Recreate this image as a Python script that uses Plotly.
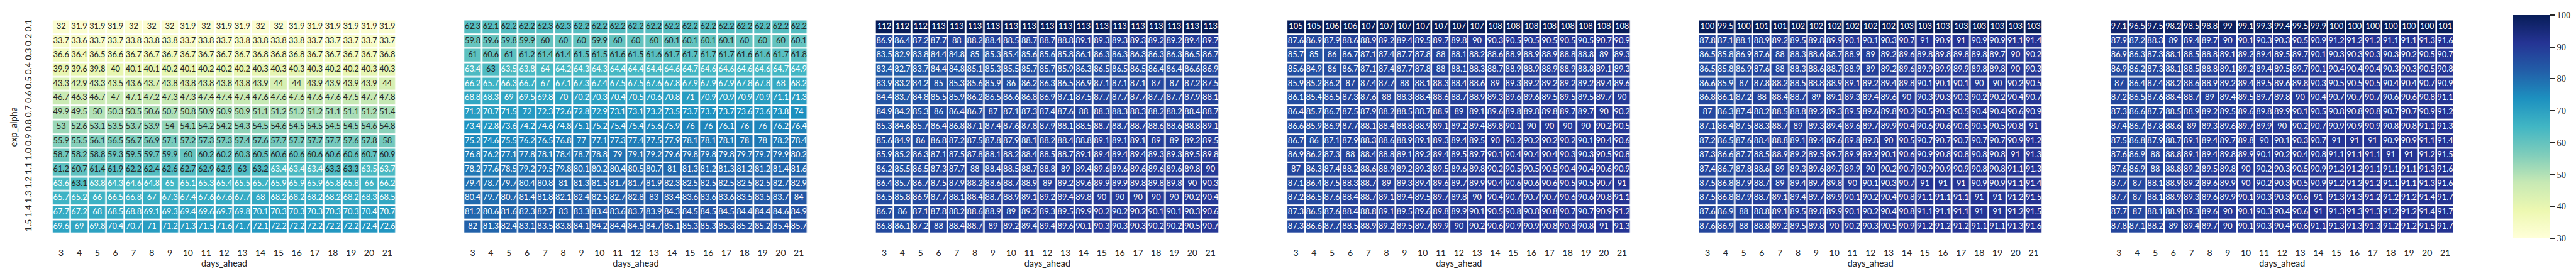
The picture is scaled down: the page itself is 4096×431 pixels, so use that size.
import plotly.graph_objects as go

# ---------------- data ----------------
days_ahead = [str(d) for d in range(3, 22)]
exp_alpha = ["0.1", "0.2", "0.3", "0.4", "0.5", "0.6", "0.7", "0.8", "0.9", "1.0", "1.1", "1.2", "1.3", "1.4", "1.5"]

panel1 = [
    [32, 31.9, 31.9, 31.9, 32, 32, 32, 31.9, 32, 31.9, 31.9, 32, 32, 31.9, 31.9, 31.9, 31.9, 31.9, 31.9],
    [33.7, 33.6, 33.7, 33.7, 33.8, 33.8, 33.8, 33.7, 33.8, 33.7, 33.8, 33.8, 33.8, 33.8, 33.7, 33.7, 33.7, 33.7, 33.7],
    [36.6, 36.4, 36.5, 36.6, 36.7, 36.7, 36.7, 36.7, 36.7, 36.7, 36.7, 36.8, 36.8, 36.8, 36.7, 36.7, 36.7, 36.7, 36.8],
    [39.9, 39.6, 39.8, 40, 40.1, 40.1, 40.2, 40.1, 40.2, 40.2, 40.2, 40.3, 40.3, 40.3, 40.3, 40.2, 40.2, 40.3, 40.3],
    [43.3, 42.9, 43.3, 43.5, 43.6, 43.7, 43.8, 43.8, 43.8, 43.8, 43.8, 43.9, 44, 44, 43.9, 43.9, 43.9, 43.9, 44],
    [46.7, 46.3, 46.7, 47, 47.1, 47.2, 47.3, 47.3, 47.4, 47.4, 47.4, 47.6, 47.6, 47.6, 47.6, 47.6, 47.5, 47.7, 47.8],
    [49.9, 49.5, 50, 50.3, 50.5, 50.6, 50.7, 50.8, 50.9, 50.9, 50.9, 51.1, 51.2, 51.2, 51.2, 51.1, 51.1, 51.2, 51.4],
    [53, 52.6, 53.1, 53.5, 53.7, 53.9, 54, 54.1, 54.2, 54.2, 54.3, 54.5, 54.6, 54.5, 54.5, 54.5, 54.5, 54.6, 54.8],
    [55.9, 55.5, 56.1, 56.5, 56.7, 56.9, 57.1, 57.2, 57.3, 57.3, 57.4, 57.6, 57.7, 57.7, 57.7, 57.7, 57.6, 57.8, 58],
    [58.7, 58.2, 58.8, 59.3, 59.5, 59.7, 59.9, 60, 60.2, 60.2, 60.3, 60.5, 60.6, 60.6, 60.6, 60.6, 60.6, 60.7, 60.9],
    [61.2, 60.7, 61.4, 61.9, 62.2, 62.4, 62.6, 62.7, 62.9, 62.9, 63, 63.2, 63.4, 63.4, 63.4, 63.3, 63.3, 63.5, 63.7],
    [63.6, 63.1, 63.8, 64.3, 64.6, 64.8, 65, 65.1, 65.3, 65.4, 65.5, 65.7, 65.9, 65.9, 65.9, 65.8, 65.8, 66, 66.2],
    [65.7, 65.2, 66, 66.5, 66.8, 67, 67.3, 67.4, 67.6, 67.6, 67.7, 68, 68.2, 68.2, 68.2, 68.2, 68.2, 68.3, 68.5],
    [67.7, 67.2, 68, 68.5, 68.8, 69.1, 69.3, 69.4, 69.6, 69.7, 69.8, 70.1, 70.3, 70.3, 70.3, 70.3, 70.3, 70.4, 70.7],
    [69.6, 69, 69.8, 70.4, 70.7, 71, 71.2, 71.3, 71.5, 71.6, 71.7, 72.1, 72.2, 72.2, 72.2, 72.2, 72.2, 72.4, 72.6],
]

panel2 = [
    [62.3, 62.1, 62.2, 62.2, 62.3, 62.3, 62.2, 62.2, 62.2, 62.2, 62.2, 62.2, 62.2, 62.2, 62.2, 62.2, 62.2, 62.2, 62.2],
    [59.8, 59.6, 59.8, 59.9, 60, 60, 60, 59.9, 60, 60, 60, 60.1, 60.1, 60.1, 60.1, 60, 60, 60, 60.1],
    [61, 60.6, 61, 61.2, 61.4, 61.4, 61.5, 61.5, 61.6, 61.5, 61.6, 61.7, 61.7, 61.7, 61.7, 61.6, 61.6, 61.7, 61.8],
    [63.4, 63, 63.5, 63.8, 64, 64.2, 64.3, 64.3, 64.4, 64.4, 64.4, 64.6, 64.7, 64.6, 64.6, 64.6, 64.6, 64.7, 64.9],
    [66.2, 65.7, 66.3, 66.7, 67, 67.1, 67.3, 67.4, 67.5, 67.5, 67.6, 67.8, 67.9, 67.9, 67.9, 67.8, 67.8, 68, 68.2],
    [68.8, 68.3, 69, 69.5, 69.8, 70, 70.2, 70.3, 70.4, 70.5, 70.6, 70.8, 71, 70.9, 70.9, 70.9, 70.9, 71.1, 71.3],
    [71.2, 70.7, 71.5, 72, 72.3, 72.6, 72.8, 72.9, 73.1, 73.1, 73.2, 73.5, 73.7, 73.7, 73.7, 73.6, 73.6, 73.8, 74],
    [73.4, 72.8, 73.6, 74.2, 74.6, 74.8, 75.1, 75.2, 75.4, 75.4, 75.6, 75.9, 76, 76, 76.1, 76, 76, 76.2, 76.4],
    [75.2, 74.6, 75.5, 76.2, 76.5, 76.8, 77, 77.1, 77.3, 77.4, 77.5, 77.9, 78.1, 78.1, 78.1, 78, 78, 78.2, 78.4],
    [76.8, 76.2, 77.1, 77.8, 78.1, 78.4, 78.7, 78.8, 79, 79.1, 79.2, 79.6, 79.8, 79.8, 79.8, 79.7, 79.7, 79.9, 80.2],
    [78.2, 77.6, 78.5, 79.2, 79.5, 79.8, 80.1, 80.2, 80.4, 80.5, 80.7, 81, 81.3, 81.2, 81.3, 81.2, 81.2, 81.4, 81.6],
    [79.4, 78.7, 79.7, 80.4, 80.8, 81, 81.3, 81.5, 81.7, 81.7, 81.9, 82.3, 82.5, 82.5, 82.5, 82.5, 82.5, 82.7, 82.9],
    [80.4, 79.7, 80.7, 81.4, 81.8, 82.1, 82.4, 82.5, 82.7, 82.8, 83, 83.4, 83.6, 83.6, 83.6, 83.5, 83.5, 83.7, 84],
    [81.2, 80.6, 81.6, 82.3, 82.7, 83, 83.3, 83.4, 83.6, 83.7, 83.9, 84.3, 84.5, 84.5, 84.5, 84.4, 84.4, 84.6, 84.9],
    [82, 81.3, 82.4, 83.1, 83.5, 83.8, 84.1, 84.2, 84.4, 84.5, 84.7, 85.1, 85.3, 85.3, 85.3, 85.2, 85.2, 85.4, 85.7],
]

panel3 = [
    [112, 112, 112, 113, 113, 113, 113, 113, 113, 113, 113, 113, 113, 113, 113, 113, 113, 113, 113],
    [86.9, 86.4, 87.2, 87.7, 88, 88.2, 88.4, 88.5, 88.7, 88.7, 88.8, 89.1, 89.3, 89.3, 89.3, 89.2, 89.2, 89.4, 89.7],
    [83.5, 82.9, 83.8, 84.4, 84.8, 85, 85.3, 85.4, 85.6, 85.6, 85.8, 86.1, 86.3, 86.3, 86.3, 86.3, 86.3, 86.5, 86.7],
    [83.4, 82.7, 83.7, 84.4, 84.8, 85.1, 85.3, 85.5, 85.7, 85.7, 85.9, 86.3, 86.5, 86.5, 86.5, 86.4, 86.4, 86.6, 86.9],
    [83.9, 83.2, 84.2, 85, 85.3, 85.6, 85.9, 86, 86.2, 86.3, 86.5, 86.9, 87.1, 87.1, 87.1, 87, 87, 87.2, 87.5],
    [84.4, 83.7, 84.8, 85.5, 85.9, 86.2, 86.5, 86.6, 86.8, 86.9, 87.1, 87.5, 87.7, 87.7, 87.7, 87.7, 87.7, 87.9, 88.1],
    [84.9, 84.2, 85.3, 86, 86.4, 86.7, 87, 87.1, 87.3, 87.4, 87.6, 88, 88.3, 88.3, 88.3, 88.2, 88.2, 88.4, 88.7],
    [85.3, 84.6, 85.7, 86.4, 86.8, 87.1, 87.4, 87.6, 87.8, 87.9, 88.1, 88.5, 88.7, 88.7, 88.7, 88.6, 88.6, 88.8, 89.1],
    [85.6, 84.9, 86, 86.8, 87.2, 87.5, 87.8, 87.9, 88.1, 88.2, 88.4, 88.8, 89.1, 89.1, 89.1, 89, 89, 89.2, 89.5],
    [85.9, 85.2, 86.3, 87.1, 87.5, 87.8, 88.1, 88.2, 88.4, 88.5, 88.7, 89.1, 89.4, 89.4, 89.4, 89.3, 89.3, 89.5, 89.8],
    [86.2, 85.5, 86.5, 87.3, 87.7, 88, 88.4, 88.5, 88.7, 88.8, 89, 89.4, 89.6, 89.6, 89.6, 89.6, 89.6, 89.8, 90],
    [86.4, 85.7, 86.7, 87.5, 87.9, 88.2, 88.6, 88.7, 88.9, 89, 89.2, 89.6, 89.9, 89.9, 89.8, 89.8, 89.8, 90, 90.3],
    [86.5, 85.8, 86.9, 87.7, 88.1, 88.4, 88.7, 88.9, 89.1, 89.2, 89.4, 89.8, 90, 90, 90, 90, 90, 90.2, 90.4],
    [86.7, 86, 87.1, 87.8, 88.2, 88.6, 88.9, 89, 89.2, 89.3, 89.5, 89.9, 90.2, 90.2, 90.2, 90.1, 90.1, 90.3, 90.6],
    [86.8, 86.1, 87.2, 88, 88.4, 88.7, 89, 89.2, 89.4, 89.4, 89.6, 90.1, 90.3, 90.3, 90.3, 90.2, 90.2, 90.5, 90.7],
]

panel4 = [
    [105, 105, 106, 106, 107, 107, 107, 107, 107, 107, 107, 108, 108, 108, 108, 108, 108, 108, 108],
    [87.6, 86.9, 87.9, 88.6, 88.9, 89.2, 89.4, 89.5, 89.7, 89.8, 90, 90.3, 90.5, 90.5, 90.5, 90.5, 90.5, 90.7, 90.9],
    [85.7, 85, 86, 86.7, 87.1, 87.4, 87.7, 87.8, 88, 88.1, 88.2, 88.6, 88.9, 88.9, 88.9, 88.8, 88.8, 89, 89.3],
    [85.6, 84.9, 86, 86.7, 87.1, 87.4, 87.7, 87.8, 88, 88.1, 88.3, 88.7, 88.9, 88.9, 88.9, 88.9, 88.8, 89.1, 89.3],
    [85.9, 85.2, 86.2, 87, 87.4, 87.7, 88, 88.1, 88.3, 88.4, 88.6, 89, 89.3, 89.2, 89.2, 89.2, 89.2, 89.4, 89.6],
    [86.1, 85.4, 86.5, 87.3, 87.6, 88, 88.3, 88.4, 88.6, 88.7, 88.9, 89.3, 89.6, 89.6, 89.5, 89.5, 89.5, 89.7, 90],
    [86.4, 85.7, 86.7, 87.5, 87.9, 88.2, 88.5, 88.7, 88.9, 89, 89.1, 89.6, 89.8, 89.8, 89.8, 89.7, 89.7, 90, 90.2],
    [86.6, 85.9, 86.9, 87.7, 88.1, 88.4, 88.8, 88.9, 89.1, 89.2, 89.4, 89.8, 90.1, 90, 90, 90, 90, 90.2, 90.5],
    [86.7, 86, 87.1, 87.9, 88.3, 88.6, 88.9, 89.1, 89.3, 89.4, 89.5, 90, 90.2, 90.2, 90.2, 90.2, 90.1, 90.4, 90.6],
    [86.9, 86.2, 87.3, 88, 88.4, 88.8, 89.1, 89.2, 89.4, 89.5, 89.7, 90.1, 90.4, 90.4, 90.4, 90.3, 90.3, 90.5, 90.8],
    [87, 86.3, 87.4, 88.2, 88.6, 88.9, 89.2, 89.3, 89.5, 89.6, 89.8, 90.2, 90.5, 90.5, 90.5, 90.4, 90.4, 90.6, 90.9],
    [87.1, 86.4, 87.5, 88.3, 88.7, 89, 89.3, 89.4, 89.6, 89.7, 89.9, 90.4, 90.6, 90.6, 90.6, 90.5, 90.5, 90.7, 91],
    [87.2, 86.5, 87.6, 88.4, 88.7, 89.1, 89.4, 89.5, 89.7, 89.8, 90, 90.4, 90.7, 90.7, 90.7, 90.6, 90.6, 90.8, 91.1],
    [87.3, 86.5, 87.6, 88.4, 88.8, 89.1, 89.5, 89.6, 89.8, 89.9, 90.1, 90.5, 90.8, 90.8, 90.8, 90.7, 90.7, 90.9, 91.2],
    [87.3, 86.6, 87.7, 88.5, 88.9, 89.2, 89.5, 89.7, 89.9, 90, 90.2, 90.6, 90.9, 90.9, 90.8, 90.8, 90.8, 91, 91.3],
]

panel5 = [
    [100, 99.5, 100, 101, 101, 102, 102, 102, 102, 102, 102, 103, 103, 103, 103, 103, 103, 103, 103],
    [87.8, 87.1, 88.1, 88.9, 89.2, 89.5, 89.8, 89.9, 90.1, 90.1, 90.3, 90.7, 91, 90.9, 91, 90.9, 90.9, 91.1, 91.4],
    [86.5, 85.8, 86.9, 87.6, 88, 88.3, 88.6, 88.7, 88.9, 89, 89.2, 89.6, 89.8, 89.8, 89.8, 89.8, 89.7, 90, 90.2],
    [86.5, 85.8, 86.9, 87.6, 88, 88.3, 88.6, 88.7, 88.9, 89, 89.2, 89.6, 89.9, 89.9, 89.9, 89.8, 89.8, 90, 90.3],
    [86.6, 85.9, 87, 87.8, 88.2, 88.5, 88.8, 88.9, 89.1, 89.2, 89.4, 89.8, 90.1, 90.1, 90.1, 90, 90, 90.2, 90.5],
    [86.8, 86.1, 87.2, 88, 88.4, 88.7, 89, 89.1, 89.3, 89.4, 89.6, 90, 90.3, 90.3, 90.3, 90.2, 90.2, 90.4, 90.7],
    [87, 86.3, 87.4, 88.2, 88.5, 88.8, 89.2, 89.3, 89.5, 89.6, 89.8, 90.2, 90.5, 90.5, 90.5, 90.4, 90.4, 90.6, 90.9],
    [87.1, 86.4, 87.5, 88.3, 88.7, 89, 89.3, 89.4, 89.6, 89.7, 89.9, 90.4, 90.6, 90.6, 90.6, 90.5, 90.5, 90.8, 91],
    [87.2, 86.5, 87.6, 88.4, 88.8, 89.1, 89.4, 89.6, 89.8, 89.8, 90, 90.5, 90.7, 90.7, 90.7, 90.7, 90.7, 90.9, 91.2],
    [87.3, 86.6, 87.7, 88.5, 88.9, 89.2, 89.5, 89.7, 89.9, 89.9, 90.1, 90.6, 90.9, 90.8, 90.8, 90.8, 90.8, 91, 91.3],
    [87.4, 86.7, 87.8, 88.6, 89, 89.3, 89.6, 89.7, 89.9, 90, 90.2, 90.7, 90.9, 90.9, 90.9, 90.8, 90.8, 91.1, 91.3],
    [87.5, 86.8, 87.9, 88.7, 89, 89.4, 89.7, 89.8, 90, 90.1, 90.3, 90.7, 91, 91, 91, 90.9, 90.9, 91.1, 91.4],
    [87.5, 86.8, 87.9, 88.7, 89.1, 89.4, 89.7, 89.9, 90.1, 90.2, 90.4, 90.8, 91.1, 91.1, 91.1, 91, 91, 91.2, 91.5],
    [87.6, 86.9, 88, 88.8, 89.1, 89.5, 89.8, 89.9, 90.1, 90.2, 90.4, 90.8, 91.1, 91.1, 91.1, 91, 91, 91.2, 91.5],
    [87.6, 86.9, 88, 88.8, 89.2, 89.5, 89.8, 90, 90.2, 90.3, 90.5, 90.9, 91.2, 91.2, 91.2, 91.1, 91.1, 91.3, 91.6],
]

panel6 = [
    [97.1, 96.5, 97.5, 98.2, 98.5, 98.8, 99, 99.1, 99.3, 99.4, 99.5, 99.9, 100, 100, 100, 100, 100, 100, 101],
    [87.9, 87.2, 88.3, 89, 89.4, 89.7, 90, 90.1, 90.3, 90.3, 90.5, 90.9, 91.2, 91.2, 91.2, 91.1, 91.1, 91.3, 91.6],
    [86.9, 86.3, 87.3, 88.1, 88.5, 88.8, 89.1, 89.2, 89.4, 89.5, 89.7, 90.1, 90.3, 90.3, 90.3, 90.3, 90.2, 90.5, 90.7],
    [86.9, 86.2, 87.3, 88.1, 88.5, 88.8, 89.1, 89.2, 89.4, 89.5, 89.7, 90.1, 90.4, 90.4, 90.4, 90.3, 90.3, 90.5, 90.8],
    [87, 86.4, 87.4, 88.2, 88.6, 88.9, 89.2, 89.4, 89.5, 89.6, 89.8, 90.3, 90.5, 90.5, 90.5, 90.4, 90.4, 90.7, 90.9],
    [87.2, 86.5, 87.6, 88.4, 88.7, 89, 89.4, 89.5, 89.7, 89.8, 90, 90.4, 90.7, 90.7, 90.7, 90.6, 90.6, 90.8, 91.1],
    [87.3, 86.6, 87.7, 88.5, 88.9, 89.2, 89.5, 89.6, 89.8, 89.9, 90.1, 90.5, 90.8, 90.8, 90.8, 90.7, 90.7, 90.9, 91.2],
    [87.4, 86.7, 87.8, 88.6, 89, 89.3, 89.6, 89.7, 89.9, 90, 90.2, 90.7, 90.9, 90.9, 90.9, 90.8, 90.8, 91.1, 91.3],
    [87.5, 86.8, 87.9, 88.7, 89.1, 89.4, 89.7, 89.8, 90, 90.1, 90.3, 90.7, 91, 91, 91, 90.9, 90.9, 91.1, 91.4],
    [87.6, 86.9, 88, 88.8, 89.1, 89.4, 89.8, 89.9, 90.1, 90.2, 90.4, 90.8, 91.1, 91.1, 91.1, 91, 91, 91.2, 91.5],
    [87.6, 86.9, 88, 88.8, 89.2, 89.5, 89.8, 90, 90.2, 90.3, 90.5, 90.9, 91.2, 91.2, 91.1, 91.1, 91.1, 91.3, 91.6],
    [87.7, 87, 88.1, 88.9, 89.2, 89.6, 89.9, 90, 90.2, 90.3, 90.5, 90.9, 91.2, 91.2, 91.2, 91.1, 91.1, 91.3, 91.6],
    [87.7, 87, 88.1, 88.9, 89.3, 89.6, 89.9, 90.1, 90.3, 90.3, 90.6, 91, 91.3, 91.3, 91.2, 91.2, 91.2, 91.4, 91.7],
    [87.7, 87, 88.1, 88.9, 89.3, 89.6, 90, 90.1, 90.3, 90.4, 90.6, 91, 91.3, 91.3, 91.3, 91.2, 91.2, 91.4, 91.7],
    [87.8, 87.1, 88.2, 89, 89.4, 89.7, 90, 90.1, 90.3, 90.4, 90.6, 91.1, 91.3, 91.3, 91.3, 91.2, 91.2, 91.5, 91.7],
]

panels = [panel1, panel2, panel3, panel4, panel5, panel6]
colorbar_ticks = [30, 40, 50, 60, 70, 80, 90, 100]

# ---------------- style ----------------
ylgnbu = ["#ffffd9", "#edf8b1", "#c7e9b4", "#7fcdbb", "#41b6c4",
          "#1d91c0", "#225ea8", "#253494", "#081d58"]
ZMIN, ZMAX = 30, 100
colorscale = [[i / 8, c] for i, c in enumerate(ylgnbu)]

W, H = 4096, 431
S = 0.686
panel_left0 = 88 * S
panel_w = 840 * S
panel_step = 954 * S
plot_top = 25 * S
plot_bot = 539.5 * S

DARK = "#262626"
SANS = "Lato, 'DejaVu Sans', sans-serif"
SERIF = "'Liberation Serif', 'DejaVu Serif', serif"


def hex2rgb(h):
    h = h.lstrip("#")
    return [int(h[i:i + 2], 16) / 255 for i in (0, 2, 4)]


RGB = [hex2rgb(c) for c in ylgnbu]


def cmap(v):
    t = min(max((v - ZMIN) / (ZMAX - ZMIN), 0.0), 1.0) * 8
    i = min(int(t), 7)
    f = t - i
    return [RGB[i][k] + (RGB[i + 1][k] - RGB[i][k]) * f for k in range(3)]


def text_color(v):
    rgb = cmap(v)
    lin = [c / 12.92 if c <= 0.03928 else ((c + 0.055) / 1.055) ** 2.4 for c in rgb]
    lum = 0.2126 * lin[0] + 0.7152 * lin[1] + 0.0722 * lin[2]
    return DARK if lum > 0.408 else "white"


fig = go.Figure()

for k, vals in enumerate(panels):
    xa = "x" if k == 0 else f"x{k + 1}"
    ya = "y" if k == 0 else f"y{k + 1}"
    is_last = k == len(panels) - 1
    hm = go.Heatmap(
        z=vals, x=days_ahead, y=exp_alpha,
        zmin=ZMIN, zmax=ZMAX, colorscale=colorscale,
        xgap=2.6, ygap=2.6,
        showscale=is_last, hoverinfo="skip",
        xaxis=xa, yaxis=ya,
    )
    if is_last:
        hm.colorbar = dict(
            x=5814 * S / W, xanchor="left",
            y=1 - ((23 + 541) / 2 * S) / H, yanchor="middle",
            len=(541 - 23) * S, lenmode="pixels",
            thickness=84 * S, thicknessmode="pixels",
            outlinewidth=0, xpad=0, ypad=0,
            tickvals=colorbar_ticks, ticks="outside", ticklen=9, tickwidth=2,
            tickcolor=DARK,
            tickfont=dict(family=SERIF, size=14.5, color=DARK),
        )
    fig.add_trace(hm)

    xs, ys, ts, cs = [], [], [], []
    for i, row in enumerate(vals):
        for j, v in enumerate(row):
            xs.append(days_ahead[j])
            ys.append(exp_alpha[i])
            ts.append(format(v, ".3g"))
            cs.append(text_color(v))
    fig.add_trace(go.Scatter(
        x=xs, y=ys, text=ts, mode="text", textposition="middle center",
        textfont=dict(family=SANS, size=12.8, color=cs),
        hoverinfo="skip", showlegend=False, cliponaxis=False,
        xaxis=xa, yaxis=ya,
    ))

    left = panel_left0 + k * panel_step
    xkey = "xaxis" if k == 0 else f"xaxis{k + 1}"
    ykey = "yaxis" if k == 0 else f"yaxis{k + 1}"
    fig.layout[xkey] = dict(
        domain=[left / W, (left + panel_w) / W], anchor=ya,
        type="category", categoryorder="array", categoryarray=days_ahead,
        showgrid=False, zeroline=False, showline=False,
        ticks="outside", ticklen=11, tickcolor="rgba(0,0,0,0)",
        tickangle=0, automargin=False,
        tickfont=dict(family=SANS, size=14, color=DARK),
        title=dict(text="days_ahead", font=dict(family=SANS, size=14.4, color=DARK), standoff=3),
    )
    fig.layout[ykey] = dict(
        domain=[1 - plot_bot / H, 1 - plot_top / H], anchor=xa,
        type="category", categoryorder="array", categoryarray=exp_alpha,
        autorange="reversed",
        showgrid=False, zeroline=False, showline=False,
        showticklabels=(k == 0),
        ticks="outside" if k == 0 else "", ticklen=12, tickcolor="rgba(0,0,0,0)",
        tickangle=-90, automargin=False,
        tickfont=dict(family=SANS, size=14, color=DARK),
        title=dict(text="exp_alpha" if k == 0 else "", font=dict(family=SANS, size=14.4, color=DARK), standoff=4),
    )

fig.update_layout(
    width=W, height=H,
    margin=dict(l=0, r=0, t=0, b=0),
    paper_bgcolor="white", plot_bgcolor="white",
    showlegend=False,
)

fig.write_html("out.html")
